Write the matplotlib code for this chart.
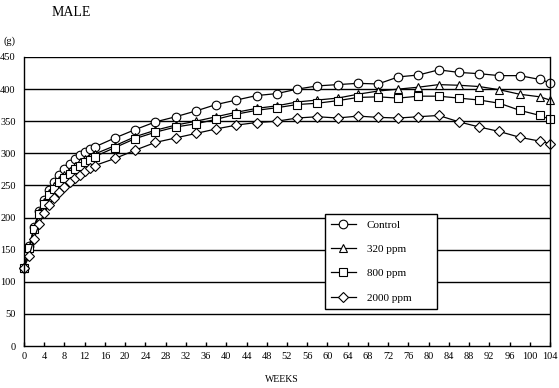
import matplotlib
matplotlib.use("Agg")
import matplotlib.pyplot as plt

weeks = list(range(0, 15)) + list(range(18, 103, 4)) + [104]

control = [122, 155, 185, 210, 228, 243, 256, 266, 276, 284, 291, 297, 302, 306, 310,
           324, 337, 349, 357, 366, 376, 383, 390, 393, 400, 405, 407, 409, 408,
           419, 422, 430, 426, 424, 421, 421, 415, 410]
ppm320 = [122, 153, 184, 208, 224, 238, 249, 258, 266, 273, 280, 286, 291, 295, 299,
          312, 326, 336, 344, 350, 357, 364, 370, 374, 380, 383, 386, 392, 397,
          400, 403, 407, 406, 404, 399, 392, 388, 383]
ppm800 = [122, 152, 182, 206, 221, 235, 245, 255, 262, 268, 275, 281, 286, 290, 295,
          309, 323, 333, 341, 346, 353, 361, 367, 371, 376, 378, 382, 387, 388,
          386, 389, 389, 386, 383, 378, 367, 359, 353]
ppm2000 = [122, 140, 167, 190, 207, 220, 231, 240, 248, 255, 261, 267, 272, 277, 281,
           292, 305, 317, 324, 331, 338, 344, 348, 350, 355, 357, 355, 358, 356,
           355, 357, 359, 349, 341, 334, 325, 319, 315]

labels = ["Control", "320 ppm", "800 ppm", "2000 ppm"]
xticks = list(range(0, 105, 4))
yticks = list(range(0, 451, 50))

W, H = 559, 388
fig = plt.figure(figsize=(W / 100, H / 100), dpi=100)
L, R, B, T = 24, 550, 346, 57
ax = fig.add_axes([L / W, 1 - B / H, (R - L) / W, (B - T) / H])

font = "Liberation Serif"
series = [control, ppm320, ppm800, ppm2000]
markers = ["o", "^", "s", "D"]
sizes = [6.2, 6.0, 6.0, 4.6]
for vals, m, s, lab in zip(series, markers, sizes, labels):
    ax.plot(weeks, vals, color="black", lw=0.9, marker=m, ms=s,
            mfc="white", mec="black", mew=0.8, label=lab, clip_on=False)

ax.set_xlim(0, 104)
ax.set_ylim(0, 450)
for y in yticks[1:]:
    ax.axhline(y, color="black", lw=1.0, zorder=0)
for side in ["left", "right", "bottom"]:
    ax.spines[side].set_linewidth(1.0)
ax.spines["top"].set_visible(False)

ax.set_xticks(xticks)
ax.set_xticklabels([str(v) for v in xticks], fontfamily=font, fontsize=7.5)
ax.set_yticks(yticks)
ax.set_yticklabels([str(v) for v in yticks], fontfamily=font, fontsize=7.5)
ax.tick_params(axis="x", direction="in", length=3, width=1, pad=4)
ax.tick_params(axis="y", length=0, pad=6)

x0 = (325 - L) / (R - L)
wdt = (437 - 325) / (R - L)
y1 = (B - 214) / (B - T)
leg = ax.legend(loc="upper left", mode="expand",
                bbox_to_anchor=(x0, y1 - 0.3, wdt, 0.3),
                prop={"family": font, "size": 8}, frameon=True, fancybox=False,
                edgecolor="black", framealpha=1, labelspacing=1.3,
                handlelength=2.2, handletextpad=1.0, borderpad=0.55,
                borderaxespad=0)
leg.get_frame().set_linewidth(1.0)

fig.text(52 / W, 1 - 12 / H, "MALE", fontfamily=font, fontsize=10, va="center", ha="left")
fig.text(4 / W, 1 - 41 / H, "(g)", fontfamily=font, fontsize=7.5, va="center", ha="left")
fig.text(282 / W, 1 - 380 / H, "WEEKS", fontfamily=font, fontsize=7, va="center", ha="center")

fig.savefig("out.png", dpi=100)
